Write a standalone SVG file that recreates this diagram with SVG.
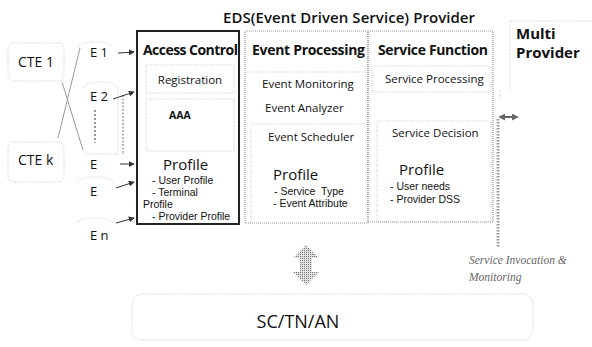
<svg xmlns="http://www.w3.org/2000/svg" width="592" height="347" viewBox="0 0 592 347">
  <defs>
    <style>
      text { font-family: "Open Sans", "Noto Sans", "Liberation Sans", sans-serif; fill: #111; }
      .h { font-weight: bold; font-size: 14px; }
      .t { font-size: 11.5px; }
      .p { font-size: 15px; }
      .s { font-family: "Liberation Sans", Arial, sans-serif; font-size: 10.5px; }
      .e { font-size: 13px; }
      .box { fill: none; stroke: #999; stroke-width: 1.2; stroke-dasharray: 1 1; }
      .faint { fill: none; stroke: #c4c4c4; stroke-width: 1; stroke-dasharray: 1 1.5; }
      .xl { fill: none; stroke: #999; stroke-width: 1; }
      .arr { fill: none; stroke: #333; stroke-width: 1; marker-end: url(#ah); }
      .note { font-family: "Liberation Serif", serif; font-style: italic; font-size: 11.5px; fill: #666; }
    </style>
    <marker id="ah" viewBox="0 0 8 8" refX="7" refY="4" markerWidth="6" markerHeight="6" orient="auto">
      <path d="M0,0 L8,4 L0,8 Z" fill="#333"/>
    </marker>
    <marker id="gh" viewBox="0 0 8 8" refX="6" refY="4" markerWidth="3.5" markerHeight="3.5" orient="auto-start-reverse">
      <path d="M0,0 L8,4 L0,8 Z" fill="#666"/>
    </marker>
    <pattern id="stip" width="2" height="2" patternUnits="userSpaceOnUse">
      <rect width="2" height="2" fill="#e2e2e2"/>
      <rect width="1" height="1" fill="#777"/>
    </pattern>
  </defs>

  <rect width="592" height="347" fill="#fff"/>

  <text x="223" y="23" font-size="15" font-weight="600" textLength="252">EDS(Event Driven Service) Provider</text>

  <!-- client terminals -->
  <g id="cte1">
    <rect x="8" y="43" width="56" height="38" rx="6" class="faint"/>
    <text x="18" y="67" font-size="14">CTE 1</text>
  </g>
  <g id="ctek">
    <rect x="8" y="142" width="56" height="40" rx="6" class="faint"/>
    <text x="18" y="165" font-size="14">CTE k</text>
  </g>

  <!-- edge points -->
  <g id="e1">
    <path d="M78,48 Q80,42 95,42 Q110,42 112,47" class="faint"/>
    <text x="90" y="57" class="e">E 1</text>
  </g>
  <g id="e2">
    <path d="M84,88 Q86,82 100,82 Q115,82 118,88 V154 H84" class="faint"/>
    <text x="90" y="101" class="e">E 2</text>
  </g>
  <g id="e3">
    <text x="90" y="169" class="e">E</text>
  </g>
  <g id="e4">
    <path d="M78,183 Q80,177 95,177 Q110,177 113,183" class="faint"/>
    <text x="90" y="196" class="e">E</text>
  </g>
  <g id="en">
    <path d="M77,223 Q80,218 95,218 Q110,218 113,223" class="faint"/>
    <text x="90" y="240" class="e">E n</text>
  </g>

  <!-- access control -->
  <g id="access-control">
    <rect x="137" y="31" width="102" height="193" fill="none" stroke="#222" stroke-width="2"/>
    <text x="143" y="55" class="h" textLength="95">Access Control</text>
    <rect x="146" y="65" width="88" height="28" class="faint"/>
    <text x="190" y="84" class="t" text-anchor="middle">Registration</text>
    <rect x="146" y="99" width="88" height="52" class="faint"/>
    <text x="169" y="119" font-size="10.5" font-weight="bold">AAA</text>
    <text x="163" y="170" class="p">Profile</text>
    <text x="152" y="184" class="s">- User Profile</text>
    <text x="152" y="196" class="s">- Terminal</text>
    <text x="143" y="208" class="s">Profile</text>
    <text x="152" y="220" class="s">- Provider Profile</text>
  </g>

  <!-- event processing -->
  <g id="event-processing">
    <rect x="245" y="31" width="123" height="192" class="box"/>
    <text x="252" y="55" class="h" textLength="113">Event Processing</text>
    <path d="M247,72 H367" class="faint"/>
    <text x="262" y="88" class="t">Event Monitoring</text>
    <text x="265" y="112" class="t">Event Analyzer</text>
    <path d="M251,222 V124 H366" class="faint"/>
    <text x="268" y="141" class="t">Event Scheduler</text>
    <text x="273" y="180" class="p">Profile</text>
    <text x="274" y="195" class="s" xml:space="preserve">- Service  Type</text>
    <text x="273" y="207" class="s">- Event Attribute</text>
  </g>

  <!-- service function -->
  <g id="service-function">
    <rect x="368" y="31" width="125" height="191" class="box"/>
    <text x="378" y="55" class="h" textLength="110">Service Function</text>
    <rect x="372" y="66" width="119" height="26" class="faint"/>
    <text x="385" y="83" class="t">Service Processing</text>
    <rect x="377" y="121" width="114" height="101" class="faint"/>
    <text x="392" y="137" class="t">Service Decision</text>
    <text x="399" y="175" class="p">Profile</text>
    <text x="390" y="190" class="s">- User needs</text>
    <text x="390" y="203" class="s">- Provider DSS</text>
  </g>

  <!-- multi provider -->
  <g id="multi-provider">
    <path d="M592,21 H510 V90" class="faint"/>
    <text x="516" y="39" font-size="15" font-weight="bold">Multi</text>
    <text x="516" y="58" font-size="15" font-weight="bold">Provider</text>
  </g>

  <!-- network layer -->
  <g id="network">
    <rect x="132" y="294" width="401" height="46" rx="10" class="faint"/>
    <text x="298" y="328" font-size="18" text-anchor="middle">SC/TN/AN</text>
  </g>

  <!-- connectors -->
  <g id="connectors">
    <path d="M80,48 L58,138" class="xl"/>
    <path d="M62,82 L83,150" class="xl"/>
    <path d="M95,110 V143" stroke="#555" stroke-width="1.2" stroke-dasharray="2 2" fill="none"/>
    <path d="M123,95 V155" stroke="#888" stroke-width="1.2" stroke-dasharray="2 1.5" fill="none"/>
    <path d="M118,53 L134,52" class="arr"/>
    <path d="M113,99 L134,92" class="arr"/>
    <path d="M120,164 L134,164" class="arr"/>
    <path d="M116,188 L134,182" class="arr"/>
    <path d="M116,223 L134,218" class="arr"/>
    <path d="M498,119 V248" stroke="#999" stroke-width="3" stroke-dasharray="1.5 1.5" fill="none"/>
    <path d="M500,90 V100" class="faint"/>
    <path d="M500,117 H517" stroke="#666" stroke-width="2" fill="none" marker-start="url(#gh)" marker-end="url(#gh)"/>
    <path d="M306,245 L319,258 L312,258 L312,272 L319,272 L306,285 L293,272 L300,272 L300,258 L293,258 Z" fill="url(#stip)"/>
  </g>

  <text x="469" y="264" class="note">Service Invocation &amp;</text>
  <text x="469" y="281" class="note">Monitoring</text>
</svg>
